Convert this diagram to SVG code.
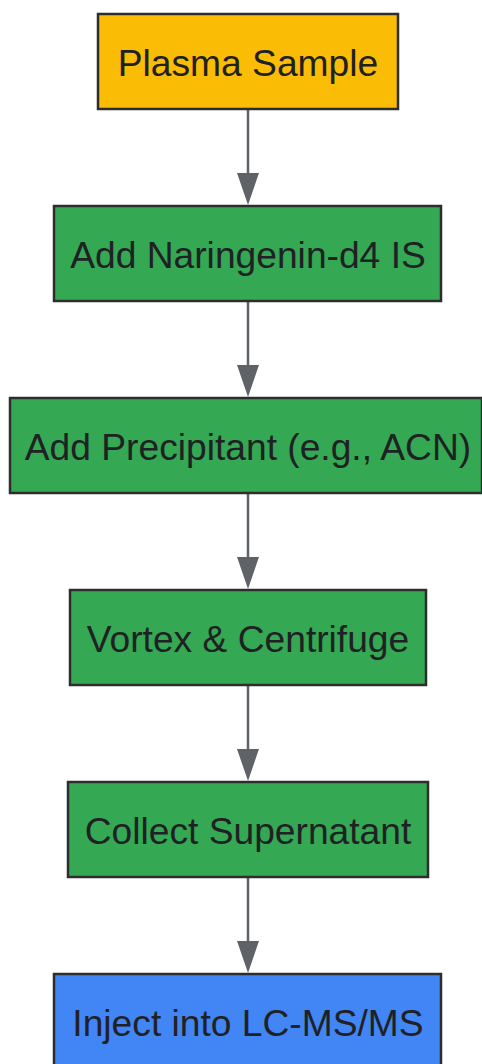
<svg xmlns="http://www.w3.org/2000/svg" width="482" height="1064" viewBox="0 0 482 1064">
<style>
.n rect{stroke:#2d2d2d;stroke-width:2.5}
.n text{font-family:"Liberation Sans",Arial,sans-serif;font-size:37.2px;fill:#202124;text-anchor:middle}
.y{fill:#FBBC05}.g{fill:#34A853}.b{fill:#4285F4}
.e line{stroke:#5f6368;stroke-width:2.5}
.e path{fill:#5f6368}
</style>
<rect width="482" height="1064" fill="#fff"/>
<g class="e" id="connectors">
<line x1="248" y1="109" x2="248" y2="176"/><path d="M237,173 L259,173 L248,205 Z"/>
<line x1="248" y1="301" x2="248" y2="368"/><path d="M237,365 L259,365 L248,397 Z"/>
<line x1="248" y1="493" x2="248" y2="560"/><path d="M237,557 L259,557 L248,589 Z"/>
<line x1="248" y1="685" x2="248" y2="752"/><path d="M237,749 L259,749 L248,781 Z"/>
<line x1="248" y1="877" x2="248" y2="944"/><path d="M237,941 L259,941 L248,973 Z"/>
</g>
<g class="n" id="plasma"><rect class="y" x="98" y="14" width="300" height="95"/><text x="248" y="76">Plasma Sample</text></g>
<g class="n" id="addis"><rect class="g" x="54" y="206" width="387" height="95"/><text x="248" y="268">Add Naringenin-d4 IS</text></g>
<g class="n" id="precip"><rect class="g" x="10" y="398" width="472" height="95"/><text x="248" y="460">Add Precipitant (e.g., ACN)</text></g>
<g class="n" id="vortex"><rect class="g" x="70" y="590" width="356" height="95"/><text x="248" y="652">Vortex &amp; Centrifuge</text></g>
<g class="n" id="collect"><rect class="g" x="68" y="782" width="360" height="95"/><text x="248" y="844">Collect Supernatant</text></g>
<g class="n" id="inject"><rect class="b" x="54" y="974" width="387" height="95"/><text x="248" y="1036">Inject into LC-MS/MS</text></g>
</svg>
